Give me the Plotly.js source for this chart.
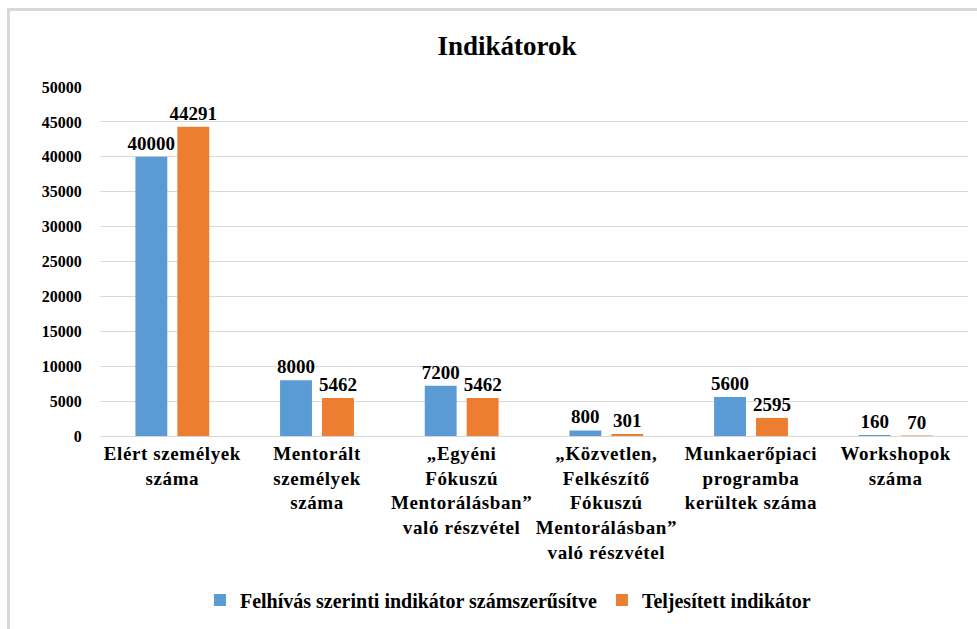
<!DOCTYPE html>
<html>
<head>
<meta charset="utf-8">
<script src="https://cdn.plot.ly/plotly-3.0.1.min.js"></script>
<style>
html,body{margin:0;padding:0;background:#fff;}
#frame{position:absolute;left:7px;top:8px;width:980px;height:630px;border-top:3px solid #d9d9d9;border-left:3px solid #d9d9d9;box-sizing:border-box;}
#chart{position:absolute;left:0;top:0;width:977px;height:629px;}
#chart .xtick text {letter-spacing:0.6px;}
</style>
</head>
<body>
<div id="frame"></div>
<div id="chart"></div>
<script>
const categories = [
  "Elért személyek<br>száma",
  "Mentorált<br>személyek<br>száma",
  "„Egyéni<br>Fókuszú<br>Mentorálásban”<br>való részvétel",
  "„Közvetlen,<br>Felkészítő<br>Fókuszú<br>Mentorálásban”<br>való részvétel",
  "Munkaerőpiaci<br>programba<br>kerültek száma",
  "Workshopok<br>száma"
];
const seriesNames = ["Felhívás szerinti indikátor számszerűsítve", "Teljesített indikátor"];
const planned = [40000, 8000, 7200, 800, 5600, 160];
const achieved = [44291, 5462, 5462, 301, 2595, 70];
const yTicks = [0, 5000, 10000, 15000, 20000, 25000, 30000, 35000, 40000, 45000, 50000];

const font = "Liberation Serif";
const labelFont = {family: font, size: 19, color: "#000", weight: "bold"};

const traces = [
  {type: "bar", name: seriesNames[0], x: categories, y: planned, marker: {color: "#5b9bd5"},
   text: planned.map(String), textposition: "outside", textfont: labelFont, cliponaxis: false, constraintext: "none"},
  {type: "bar", name: seriesNames[1], x: categories, y: achieved, marker: {color: "#ed7d31"},
   text: achieved.map(String), textposition: "outside", textfont: labelFont, cliponaxis: false, constraintext: "none"}
];

const layout = {
  width: 977, height: 629,
  paper_bgcolor: "rgba(0,0,0,0)", plot_bgcolor: "rgba(0,0,0,0)",
  margin: {l: 100, r: 9, t: 87, b: 191},
  font: {family: font, color: "#000", weight: "bold"},
  title: {text: "Indikátorok", x: 0.519, xanchor: "center", y: 0.928, yanchor: "middle", yref: "container",
          font: {family: font, size: 27, color: "#000", weight: "bold"}},
  barmode: "group", bargap: 0.42, bargroupgap: 0.24,
  showlegend: true,
  legend: {orientation: "h", x: 0.47, xanchor: "center", y: -0.47, yanchor: "middle",
           font: {family: font, size: 20, color: "#000", weight: "bold"}, itemwidth: 30, tracegroupgap: 0},
  xaxis: {tickfont: {family: font, size: 19, color: "#000", weight: "bold"}, showline: true, linecolor: "#d9d9d9", linewidth: 1,
          ticks: "", automargin: false, fixedrange: true},
  yaxis: {range: [0, 50000], tickvals: yTicks, ticktext: yTicks.map(String), showgrid: true, gridcolor: "#d9d9d9",
          zeroline: false, ticks: "outside", ticklen: 14, tickcolor: "rgba(0,0,0,0)",
          tickfont: {family: font, size: 16, color: "#000", weight: "bold"}, automargin: false, fixedrange: true}
};

Plotly.newPlot("chart", traces, layout, {displayModeBar: false, staticPlot: true});
</script>
</body>
</html>
